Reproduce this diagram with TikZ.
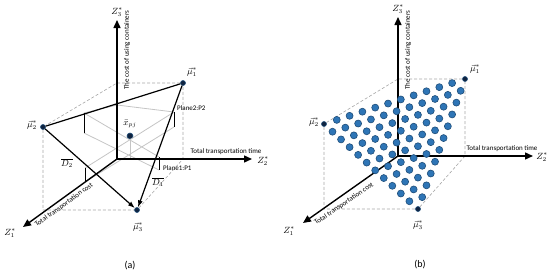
\documentclass[tikz,border=0pt]{standalone}
\usepackage{fontspec}
\setmainfont{Carlito}
\usepackage{tikz}
\usetikzlibrary{calc,arrows,arrows.meta,positioning}
\definecolor{ptblue}{HTML}{2E75B6}
\definecolor{ptedge}{HTML}{1F4E79}
\definecolor{navy}{HTML}{0F2340}
\definecolor{planegray}{HTML}{C4C4C4}
\definecolor{boxgray}{HTML}{A6A6A6}
\tikzstyle{corner}=[draw=ptedge,fill=navy,circle,minimum size=5pt,inner sep=0pt,line width=0.6pt]
\tikzstyle{sol}=[draw=ptedge,fill=ptblue,circle,minimum size=7pt,inner sep=0pt,line width=0.6pt]
\tikzstyle{axis}=[draw,line width=1.4pt,-{Triangle[length=8pt,width=7pt]}]
\tikzstyle{guide}=[draw=boxgray,line width=0.6pt,dash pattern=on 3pt off 2pt]
\tikzstyle{plane}=[draw=planegray,line width=0.8pt]
\tikzstyle{wall}=[draw,line width=0.8pt]
\tikzstyle{lbl}=[font=\fontsize{7}{8}\selectfont,inner sep=0pt]
\tikzstyle{sym}=[font=\fontsize{9}{10}\selectfont,inner sep=0pt]

\begin{document}
\begin{tikzpicture}[x=1pt,y=-1pt,
every edge/.style = {draw, -{Latex[length=7pt,width=5pt]}, line width=1.2pt}]
\useasboundingbox (0,0) rectangle (550,273);
\coordinate (oa) at (117,159);
\coordinate (z1a) at (23,227);
\coordinate (z2a) at (252,159);
\coordinate (z3a) at (117,20);
\node [corner] (mua1) at (183,83) {};
\node [corner] (mua2) at (43,127) {};
\node [corner] (mua3) at (137,210) {};
\coordinate (ta) at (oa |- mua1);
\coordinate (sa) at (mua1 |- oa);
\coordinate (ra) at (mua2 |- mua3);
\draw [guide] (mua1) -- (ta) -- (mua2) -- (ra) -- (mua3) -- (sa) -- (mua1);
\coordinate (p1a) at (84,113);
\coordinate (p1b) at (84,133);
\coordinate (p1c) at (159,157);
\coordinate (p1d) at (159,170);
\coordinate (p2a) at (85,168);
\coordinate (p2b) at (85,182);
\coordinate (p2c) at (174,112);
\coordinate (p2d) at (174,127);
\coordinate (pk) at (117,105);
\node [corner,minimum size=6pt] (xpj) at (130,136) {};
\draw [plane] (p1a) -- (p1c) (p1b) -- (p1d) (p2a) -- (p2c) (p2b) -- (p2d);
\draw [plane] (p1a) -- (pk) -- (p2c);
\draw [plane] (xpj) -- (xpj |- oa);
\draw [wall] (p1a) -- (p1b) (p1c) -- (p1d) (p2a) -- (p2b) (p2c) -- (p2d);
\draw [axis] (oa) -- (z3a);
\draw [axis] (oa) -- (z2a);
\draw [axis] (oa) -- (z1a);
\draw [line width=1.2pt] (mua2) -- (mua1);
\path (mua1) edge (mua3)
      (mua2) edge (mua3);
\node [sym] (la3) at (117,12) {$Z_3^{*}$};
\node [sym] (la2) at (263,161) {$Z_2^{*}$};
\node [sym] (la1) at (10,233) {$Z_1^{*}$};
\node [sym] (lm1) at (192,72) {$\vec{\mu}_1^{*}$};
\node [sym] (lm2) at (32,125) {$\vec{\mu}_2^{*}$};
\node [sym] (lm3) at (138,227) {$\vec{\mu}_3^{*}$};
\node [sym] (lx) at (130,124) {$\bar{x}_{pj}$};
\node [sym] (ld2) at (67,163) {$\overline{D_2}$};
\node [sym] (ld1) at (158,182) {$\overline{D_1}$};
\node [lbl,rotate=90] (costa) at (127,50) {The cost of using containers};
\node [lbl] (timea) at (226,152) {Total transportation time};
\node [lbl,rotate=36] (trca) at (64,205) {Total transportation cost};
\node [lbl,anchor=west] (pl2) at (177,108) {Plane2:P2};
\node [lbl,anchor=west] (pl1) at (163,168) {Plane1:P1};
\node [font=\fontsize{10}{12}\selectfont] (capa) at (130,266) {(a)};
\coordinate (ob) at (398,156);
\coordinate (z1b) at (303,223);
\coordinate (z2b) at (533,156);
\coordinate (z3b) at (398,17);
\node [corner] (mub1) at (465,79) {};
\node [corner] (mub2) at (324,124) {};
\node [corner] (mub3) at (418,209) {};
\coordinate (tb) at (ob |- mub1);
\coordinate (sb) at (mub1 |- ob);
\coordinate (rb) at (mub2 |- mub3);
\draw [guide] (mub1) -- (tb) -- (mub2) -- (rb) -- (mub3) -- (sb) -- (mub1);
\draw [axis] (ob) -- (z3b);
\draw [axis] (ob) -- (z2b);
\draw [axis] (ob) -- (z1b);
\foreach \i in {0,...,11}{
    \foreach \j in {0,...,11}{
        \pgfmathtruncatemacro\k{11-\i-\j}
        \pgfmathtruncatemacro\ok{(\k>=0)&&(\i<11)&&(\j<11)&&(\k<11)}
        \ifnum\ok=1
            \node [sol] (s\i-\j) at (barycentric cs:mub1=\i,mub2=\j,mub3=\k) {};
        \fi
    }
}
\node [sym] (lb3) at (398,9) {$Z_3^{*}$};
\node [sym] (lb2) at (542,157) {$Z_2^{*}$};
\node [sym] (lb1) at (289,231) {$Z_1^{*}$};
\node [sym] (ln1) at (475,69) {$\vec{\mu}_1^{*}$};
\node [sym] (ln2) at (314,122) {$\vec{\mu}_2^{*}$};
\node [sym] (ln3) at (418,225) {$\vec{\mu}_3^{*}$};
\node [lbl,rotate=90] (costb) at (408,50) {The cost of using containers};
\node [lbl] (timeb) at (502,149) {Total transportation time};
\node [lbl,rotate=34] (trcb) at (344,204) {Total transportation cost};
\node [font=\fontsize{10}{12}\selectfont] (capb) at (420,265) {(b)};
\end{tikzpicture}
\end{document}
